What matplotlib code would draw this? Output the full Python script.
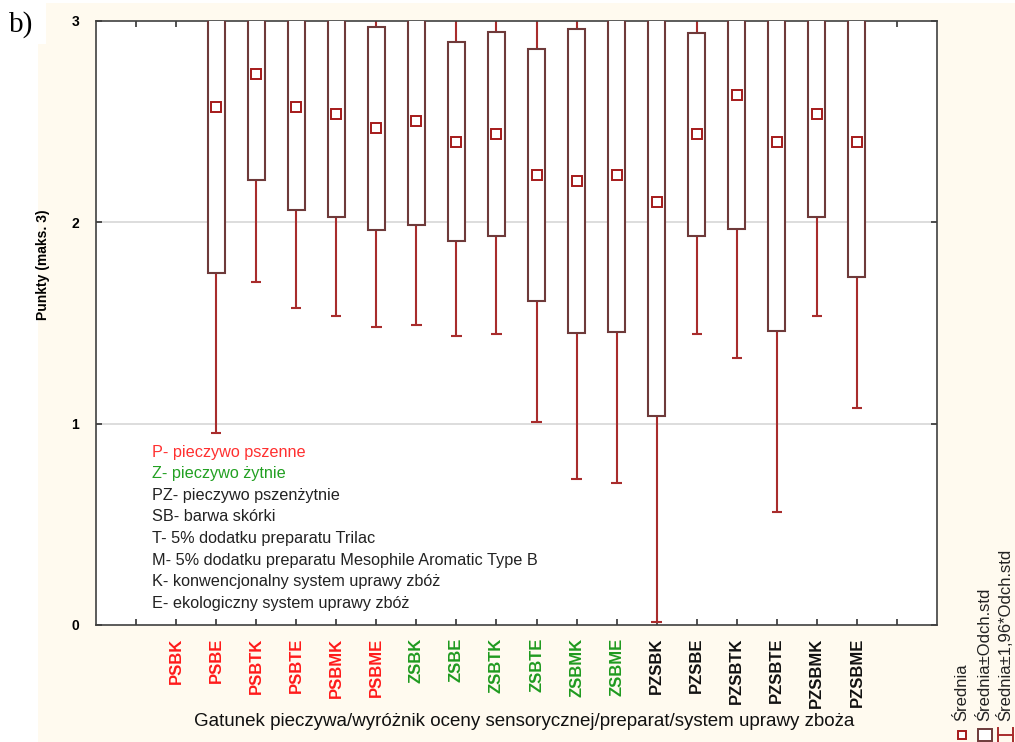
import numpy as np
import matplotlib
matplotlib.use("Agg")
import matplotlib.pyplot as plt
from matplotlib.patches import Rectangle
from matplotlib.lines import Line2D

categories = ["PSBK", "PSBE", "PSBTK", "PSBTE", "PSBMK", "PSBME",
              "ZSBK", "ZSBE", "ZSBTK", "ZSBTE", "ZSBMK", "ZSBME",
              "PZSBK", "PZSBE", "PZSBTK", "PZSBTE", "PZSBMK", "PZSBME"]
means = [np.nan, 2.573, 2.739, 2.573, 2.536, 2.467,
         2.505, 2.401, 2.437, 2.237, 2.205, 2.237,
         2.101, 2.437, 2.632, 2.401, 2.536, 2.401]
sds = [np.nan, 0.826, 0.527, 0.510, 0.511, 0.503,
       0.518, 0.493, 0.506, 0.626, 0.755, 0.782,
       1.064, 0.505, 0.667, 0.939, 0.511, 0.674]
label_colors = ["#ff1a1a"] * 6 + ["#1f9a1f"] * 6 + ["#111111"] * 6
notes = ["P- pieczywo pszenne", "Z- pieczywo żytnie", "PZ- pieczywo pszenżytnie",
         "SB- barwa skórki", "T- 5% dodatku preparatu Trilac",
         "M- 5% dodatku preparatu Mesophile Aromatic Type B",
         "K- konwencjonalny system uprawy zbóż", "E- ekologiczny system uprawy zbóż"]
note_colors = ["#ff3030", "#22a022"] + ["#222222"] * 6
legend_labels = ["Średnia", "Średnia±Odch.std", "Średnia±1,96*Odch.std"]

plt.rcParams['font.family'] = ['Liberation Sans', 'DejaVu Sans']

W, H = 1015, 742
fig = plt.figure(figsize=(W / 100, H / 100), dpi=100, facecolor="white")
cream = "#fffaef"
fig.patches.append(Rectangle((38 / W, 0), 1 - 38 / W, 1 - 3 / H, transform=fig.transFigure,
                             facecolor=cream, edgecolor="none", zorder=-10))
fig.patches.append(Rectangle((38 / W, 1 - 44 / H), 8 / W, 41 / H, transform=fig.transFigure,
                             facecolor="white", edgecolor="none", zorder=-9))

ax = fig.add_axes([96 / W, 1 - 625 / H, 841 / W, 604 / H])
ax.set_facecolor("white")
ax.set_xlim(-1, 20)
ax.set_ylim(0, 3)

box_edge = "#6e3a3a"
whisk = "#a82c2c"
mean_col = "#a51a1a"
x = np.arange(1, len(categories) + 1)
m = np.array(means)
s = np.array(sds)

for yy in (1, 2):
    ax.axhline(yy, color="#dadada", lw=1.3, zorder=0)

lo = m - 1.96 * s
hi = m + 1.96 * s
ax.vlines(x, lo, hi, color=whisk, lw=1.5, zorder=2)
ax.hlines(lo, x - 0.13, x + 0.13, color=whisk, lw=1.5, zorder=2)
ax.hlines(hi, x - 0.13, x + 0.13, color=whisk, lw=1.5, zorder=2)
ax.bar(x, 2 * s, bottom=m - s, width=0.42, facecolor="white", edgecolor=box_edge,
       linewidth=1.5, zorder=3)
ax.plot(x, m, linestyle="none", marker="s", markersize=7, markerfacecolor="white",
        markeredgecolor=mean_col, markeredgewidth=1.4, zorder=4)

for i, (t, c) in enumerate(zip(notes, note_colors)):
    ax.text(0.40, 0.859 - i * 0.1075, t, color=c, fontsize=11.7, va="center", ha="left",
            zorder=5)

ax.set_xticks(np.arange(0, 20))
ax.set_xticklabels([""] + categories + [""], rotation=90, fontsize=12, fontweight="bold",
                   va="top")
for lab, c in zip(ax.get_xticklabels()[1:-1], label_colors):
    lab.set_color(c)
ax.set_yticks([0, 1, 2, 3])
ax.set_yticklabels(["0", "1", "2", "3"], fontsize=10, fontweight="bold")
ax.tick_params(axis="both", direction="in", top=True, right=True, length=4, width=1.2,
               color="#333333")
ax.tick_params(axis="x", pad=9)
ax.tick_params(axis="y", pad=12)
for sp in ax.spines.values():
    sp.set_color("#404040")
    sp.set_linewidth(1.2)

fig.text(43 / W, 1 - 265 / H, "Punkty (maks. 3)", rotation=90, fontsize=10,
         fontweight="bold", ha="center", va="center")
fig.text(524 / W, 1 - 722 / H,
         "Gatunek pieczywa/wyróżnik oceny sensorycznej/preparat/system uprawy zboża",
         fontsize=13.5, ha="center", va="center", color="#111111")
fig.text(9 / W, 1 - 25 / H, "b)", fontsize=21, family="Liberation Serif", ha="left",
         va="center")

# legend (rotated)
for xc, t in zip([962, 985, 1005], legend_labels):
    fig.text(xc / W, 1 - 721 / H, t, rotation=90, fontsize=12, ha="center", va="bottom",
             color="#222222")
ys = 1 - 735 / H
fig.patches.append(Rectangle(((962 - 4) / W, ys - 4 / H), 8 / W, 8 / H, transform=fig.transFigure,
                             facecolor="white", edgecolor=mean_col, lw=1.4))
fig.patches.append(Rectangle(((985 - 7) / W, ys - 6 / H), 14 / W, 12 / H, transform=fig.transFigure,
                             facecolor="white", edgecolor=box_edge, lw=1.4))
for seg in [((998, 1013), (735, 735)), ((998, 998), (728, 742)), ((1013, 1013), (728, 742))]:
    fig.lines.append(Line2D([v / W for v in seg[0]], [1 - v / H for v in seg[1]],
                            transform=fig.transFigure, color=whisk, lw=1.4))

fig.savefig("out.png", dpi=100, facecolor=fig.get_facecolor())
